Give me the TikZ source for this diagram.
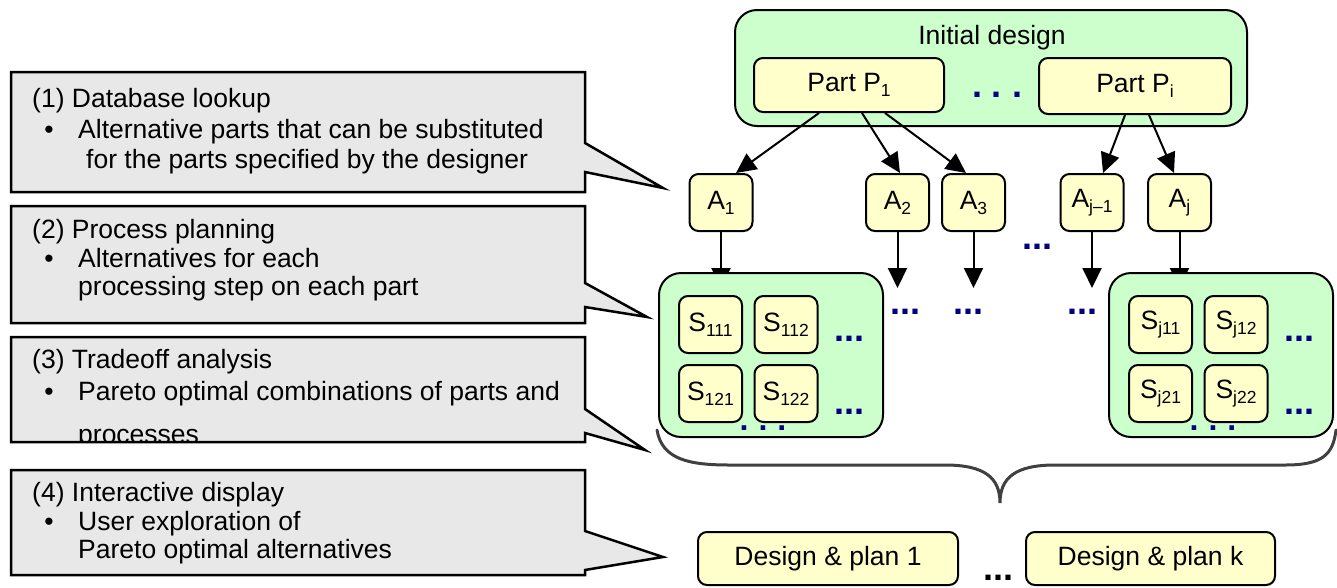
\documentclass[tikz,border=0pt]{standalone}
\usepackage{fontspec}
\setmainfont{Liberation Sans}
\usetikzlibrary{arrows.meta}
\definecolor{grn}{HTML}{CCFFCC}
\definecolor{ylw}{HTML}{FFFFCC}
\definecolor{gry}{HTML}{E8E8E8}
\definecolor{navy}{HTML}{000080}
\definecolor{brc}{HTML}{404040}
\newcommand\sbs[1]{\raisebox{-5pt}{\fontsize{17.5}{17.5}\selectfont #1}}
\begin{document}
\begin{tikzpicture}[x=1pt,y=-1pt,
  font=\fontsize{26.5}{30}\selectfont,
  ybox/.style={draw, line width=2pt, fill=ylw, rounded corners=9pt, inner sep=0pt},
  gbox/.style={draw, line width=2pt, fill=grn, rounded corners=22pt, inner sep=0pt},
  abox/.style={ybox, minimum width=63pt, minimum height=57pt},
  sbox/.style={ybox, minimum width=63pt, minimum height=57pt},
  arr/.style={line width=2pt, -{Triangle[length=20pt,width=19pt]}},
  clfill/.style={fill=gry},
  clline/.style={draw, line width=2.5pt, line join=miter},
  txt/.style={anchor=base west, inner sep=0pt},
  bul/.style={anchor=base, inner sep=0pt},
  ndots/.style={inner sep=0pt, text=navy, font=\fontsize{36}{36}\selectfont\bfseries},
  wdots/.style={inner sep=0pt, text=navy, font=\fontsize{32}{32}\selectfont\bfseries},
  brace/.style={draw=brc, line width=3pt, line cap=round}
]
\useasboundingbox (0,0) rectangle (1337,587);

% ---------- callouts ----------
\path[clfill] (11,72) -- (585,72) -- (585,143) -- (663,188) -- (585,172) -- (585,192) -- (11,192) -- cycle;
\node[txt] (c1a) at (32,107) {(1) Database lookup};
\node[bul] (c1b) at (49,138) {\textbullet};
\node[txt] (c1c) at (78,138) {Alternative parts that can be substituted};
\node[txt] (c1d) at (86,168) {for the parts specified by the designer};
\path[clline] (11,72) -- (585,72) -- (585,143) -- (663,188) -- (585,172) -- (585,192) -- (11,192) -- cycle;

\path[clfill] (11,206) -- (585,206) -- (585,283) -- (647,317) -- (585,307) -- (585,323) -- (11,323) -- cycle;
\node[txt] (c2a) at (32,238) {(2) Process planning};
\node[bul] (c2b) at (49,267) {\textbullet};
\node[txt] (c2c) at (78,267) {Alternatives for each};
\node[txt] (c2d) at (78,295) {processing step on each part};
\path[clline] (11,206) -- (585,206) -- (585,283) -- (647,317) -- (585,307) -- (585,323) -- (11,323) -- cycle;

\path[clfill] (11,337) -- (585,337) -- (585,409) -- (645,450) -- (585,433) -- (585,442) -- (11,442) -- cycle;
\node[txt] (c3a) at (32,368) {(3) Tradeoff analysis};
\node[bul] (c3b) at (49,400) {\textbullet};
\node[txt] (c3c) at (78,400) {Pareto optimal combinations of parts and};
\begin{scope}
  \clip (11,337) rectangle (585,441);
  \node[txt] (c3d) at (78,443) {processes};
\end{scope}
\path[clline] (11,337) -- (585,337) -- (585,409) -- (645,450) -- (585,433) -- (585,442) -- (11,442) -- cycle;

\path[clfill] (11,470) -- (585,470) -- (585,531) -- (663,557) -- (585,570) -- (585,575) -- (11,575) -- cycle;
\node[txt] (c4a) at (32,501) {(4) Interactive display};
\node[bul] (c4b) at (49,530) {\textbullet};
\node[txt] (c4c) at (78,530) {User exploration of};
\node[txt] (c4d) at (78,558) {Pareto optimal alternatives};
\path[clline] (11,470) -- (585,470) -- (585,531) -- (663,557) -- (585,570) -- (585,575) -- (11,575) -- cycle;

% ---------- initial design ----------
\node[gbox, minimum width=512pt, minimum height=116pt] (init) at (991,68) {};
\node[anchor=base, inner sep=0pt] (initT) at (992,44) {Initial design};
\node[ybox, minimum width=190pt, minimum height=54pt] (P1) at (849,85) {Part P\sbs{1}};
\node[ybox, minimum width=192pt, minimum height=56pt] (Pi) at (1135,86) {Part P\sbs{i}};
\node[ndots] (pd) at (997,95) {.\ .\ .};

% ---------- alternatives ----------
\node[abox] (A1) at (721,202.5) {A\sbs{1}};
\node[abox] (A2) at (897.5,202.5) {A\sbs{2}};
\node[abox] (A3) at (973.5,202.5) {A\sbs{3}};
\node[abox] (Aj1) at (1092,202.5) {A\sbs{j--1}};
\node[abox] (Aj) at (1179.5,202.5) {A\sbs{j}};
\node[ndots] (ad) at (1037,247) {...};

\draw[arr] ([xshift=-30pt]P1.south) -- ([xshift=15pt]A1.north);
\draw[arr] ([xshift=13pt]P1.south) -- ([xshift=2.5pt]A2.north);
\draw[arr] ([xshift=36pt]P1.south) -- ([xshift=-7.5pt]A3.north);
\draw[arr] ([xshift=-10pt]Pi.south) -- ([xshift=11pt]Aj1.north);
\draw[arr] ([xshift=14pt]Pi.south) -- ([xshift=-5.5pt]Aj.north);

\coordinate (e1) at ([yshift=-56pt]A1.south);
\coordinate (e2) at ([yshift=-56pt]A2.south);
\coordinate (e3) at ([yshift=-56pt]A3.south);
\coordinate (e4) at ([yshift=-56pt]Aj1.south);
\coordinate (e5) at ([yshift=-56pt]Aj.south);
\draw[arr] (A1.south) -- (e1);
\draw[arr] (A2.south) -- (e2);
\draw[arr] (A3.south) -- (e3);
\draw[arr] (Aj1.south) -- (e4);
\draw[arr] (Aj.south) -- (e5);

\node[ndots] (od1) at (905,312) {...};
\node[ndots] (od2) at (968,312) {...};
\node[ndots] (od3) at (1082,312) {...};

% ---------- step groups ----------
\node[gbox, minimum width=224pt, minimum height=164pt] (G1) at (771,355) {};
\node[sbox] (S111) at (710.5,324.5) {S\sbs{111}};
\node[sbox] (S112) at (786,324.5) {S\sbs{112}};
\node[sbox] (S121) at (710.5,393.5) {S\sbs{121}};
\node[sbox] (S122) at (786,393.5) {S\sbs{122}};
\node[ndots] (g1d1) at (849,339) {...};
\node[ndots] (g1d2) at (849,412) {...};
\node[wdots] (g1d3) at (763,428) {.\hspace{10pt}.\hspace{10pt}.};

\node[gbox, minimum width=224pt, minimum height=164pt] (Gj) at (1221,355) {};
\node[sbox] (Sj11) at (1160.5,324.5) {S\sbs{j11}};
\node[sbox] (Sj12) at (1236,324.5) {S\sbs{j12}};
\node[sbox] (Sj21) at (1160.5,393.5) {S\sbs{j21}};
\node[sbox] (Sj22) at (1236,393.5) {S\sbs{j22}};
\node[ndots] (gjd1) at (1299,339) {...};
\node[ndots] (gjd2) at (1299,412) {...};
\node[wdots] (gjd3) at (1213,428) {.\hspace{10pt}.\hspace{10pt}.};

% ---------- brace ----------
\coordinate (bl) at (657,430);
\coordinate (bt) at (1000,503);
\coordinate (br) at (1336,430);
\draw[brace] (bl) .. controls (662,460) and (690,465) .. (730,465) -- (945,465)
  .. controls (985,465) and (1000,478) .. (bt)
  .. controls (1000,478) and (1015,465) .. (1055,465) -- (1285,465)
  .. controls (1322,465) and (1333,455) .. (br);

% ---------- results ----------
\node[ybox, minimum width=260pt, minimum height=53pt] (D1) at (828,558.5) {Design \& plan 1};
\node[ybox, minimum width=249pt, minimum height=53pt] (Dk) at (1150.5,558.5) {Design \& plan k};
\node[ndots, text=black] (dd) at (998,578) {...};
\end{tikzpicture}
\end{document}
